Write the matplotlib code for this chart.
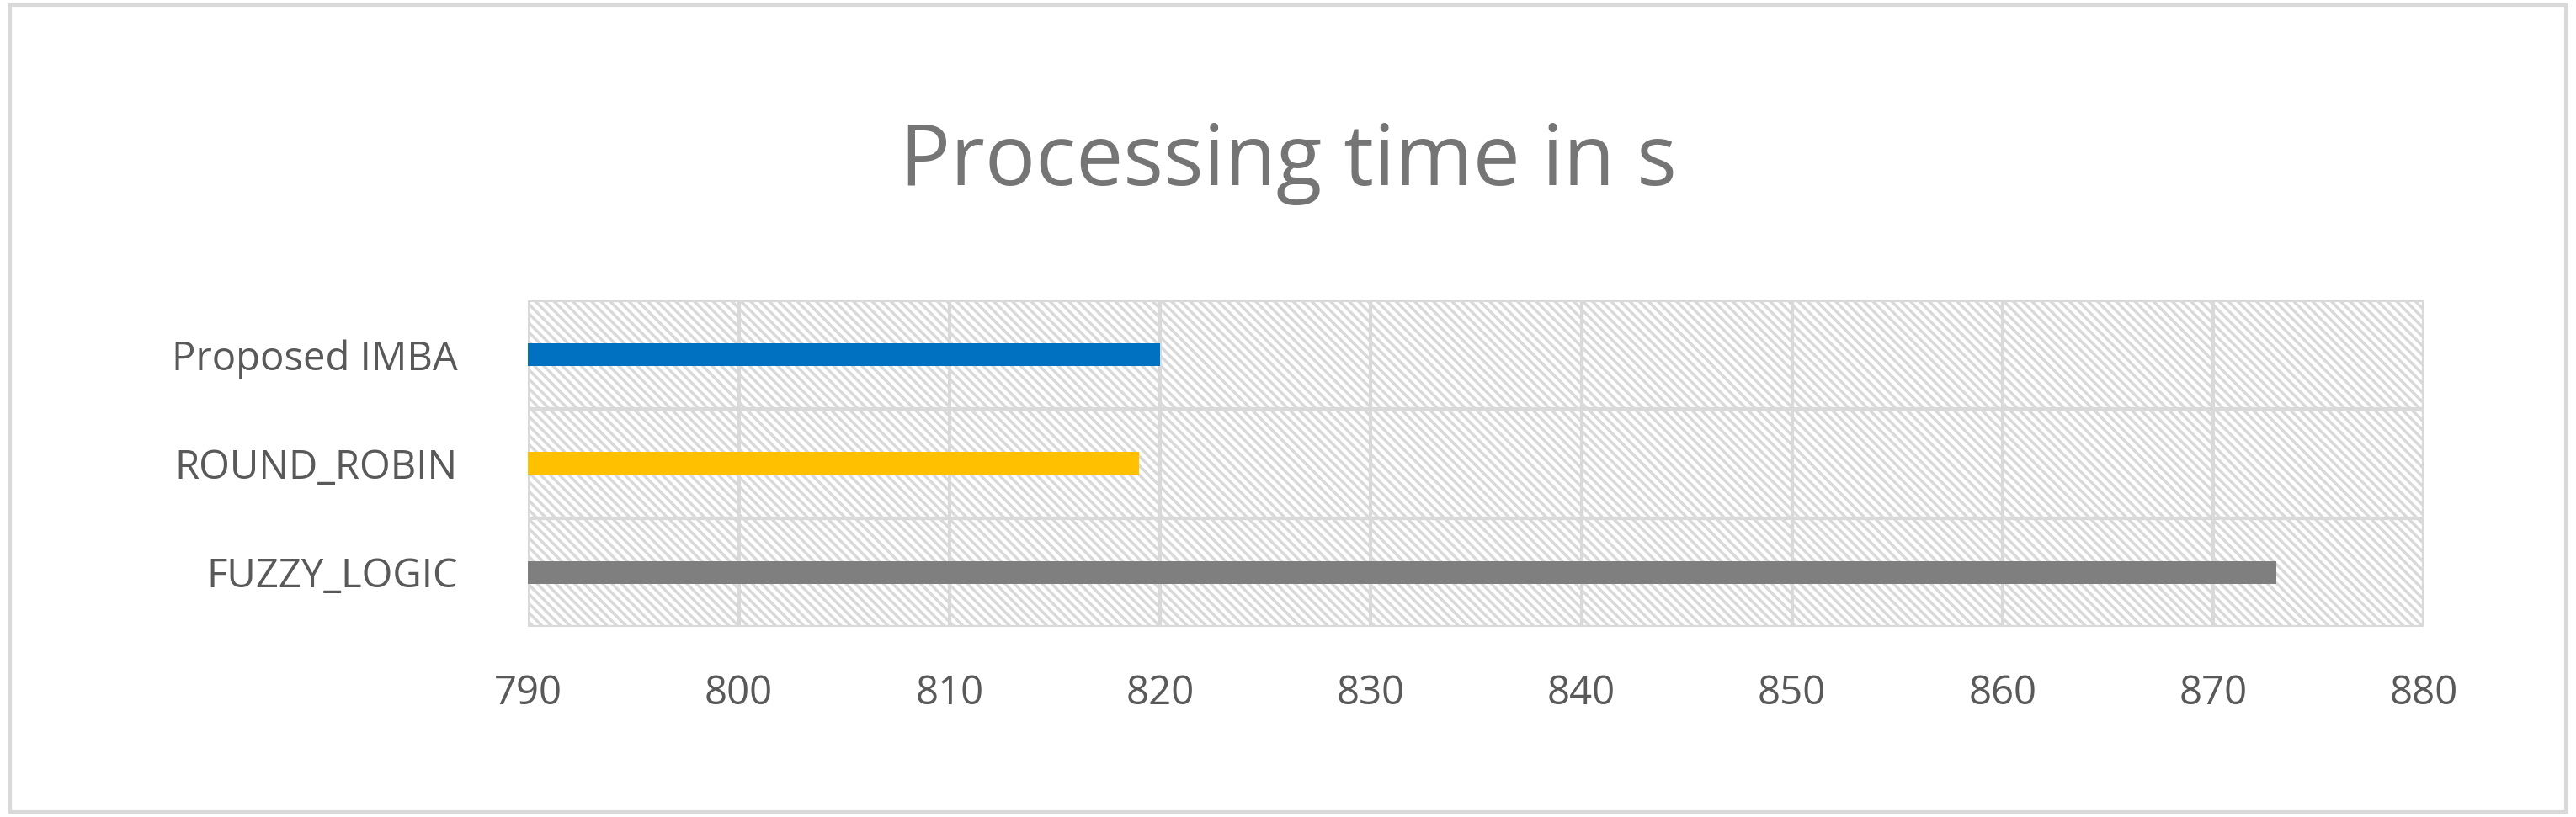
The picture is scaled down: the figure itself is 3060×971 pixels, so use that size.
import numpy as np
import matplotlib.pyplot as plt
from matplotlib.patches import Rectangle

plt.rcParams['font.family'] = ['Open Sans', 'DejaVu Sans']
plt.rcParams['hatch.color'] = '#d9d9d9'
plt.rcParams['hatch.linewidth'] = 2.5

# datos
categorias = ['FUZZY_LOGIC', 'ROUND_ROBIN', 'Proposed IMBA']
tiempos = [873, 819, 820]
colores = ['#7f7f7f', '#ffc000', '#0070c0']
ticks_x = [790, 800, 810, 820, 830, 840, 850, 860, 870, 880]

fig = plt.figure(figsize=(30.6, 9.71), dpi=100)
# marco exterior
fig.patches.append(Rectangle((0.004, 0.006), 0.992, 0.988, transform=fig.transFigure,
                             fill=False, edgecolor='#d9d9d9', linewidth=3))
ax = fig.add_axes([0.205, 0.233, 0.736, 0.399])

xmin, xmax = 790, 880
ax.set_xlim(xmin, xmax)
ax.set_ylim(-0.5, 2.5)
# fondo rayado
ax.add_patch(Rectangle((xmin, -0.5), xmax - xmin, 3, facecolor='white',
                       edgecolor='#d9d9d9', hatch='\\\\\\', linewidth=0, zorder=0))

y = np.arange(len(categorias))
ax.barh(y, [t - xmin for t in tiempos], left=xmin, height=0.21, color=colores, zorder=3)

ax.set_xticks(ticks_x)
ax.set_yticks(y)
ax.set_yticklabels(categorias)
for xv in ticks_x:
    ax.axvline(xv, color='#d9d9d9', linewidth=3, zorder=1)
for yv in [-0.5, 0.5, 1.5, 2.5]:
    ax.axhline(yv, color='#d9d9d9', linewidth=3, zorder=1)
for s in ax.spines.values():
    s.set_visible(False)
ax.tick_params(axis='both', length=0, labelsize=34, labelcolor='#595959')
ax.tick_params(axis='x', pad=40)
ax.tick_params(axis='y', pad=60)

fig.text(0.5, 0.80, 'Processing time in s', ha='center', va='center',
         fontsize=72, color='#757575')

fig.savefig('out.png', dpi=100)
